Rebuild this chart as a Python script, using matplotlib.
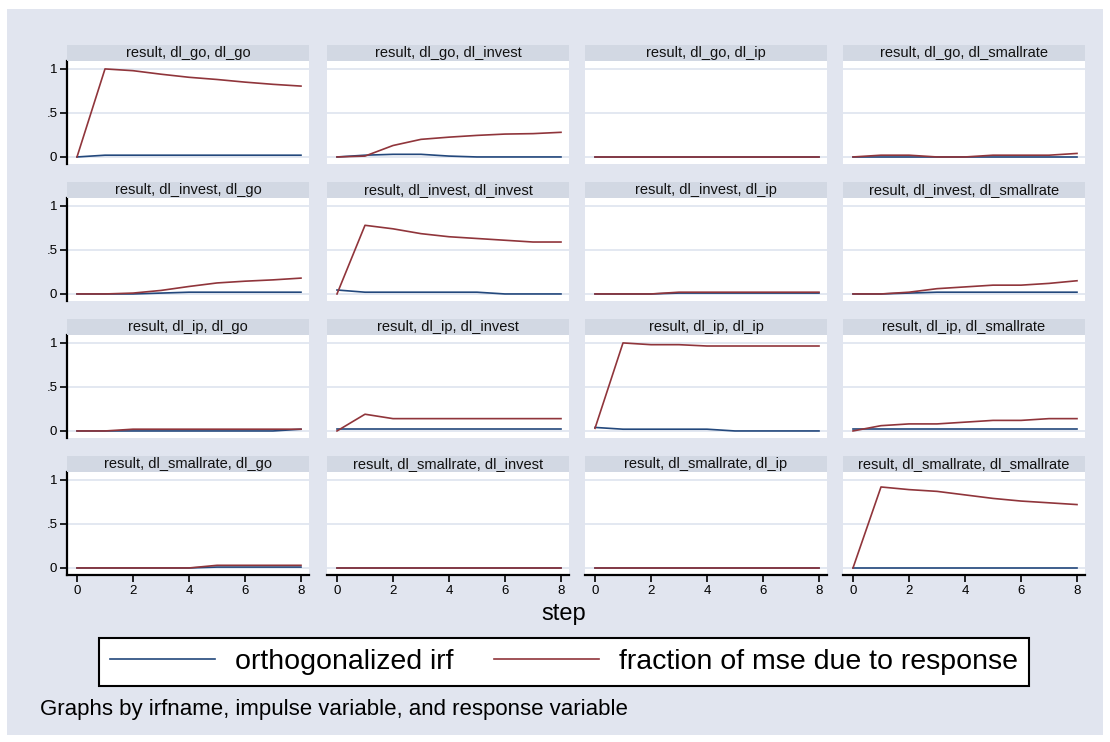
import matplotlib.pyplot as plt
from matplotlib.patches import Rectangle
from matplotlib.lines import Line2D

plt.rcParams['font.family'] = ['Liberation Sans', 'DejaVu Sans']

W, H = 1110, 742

steps = [0, 1, 2, 3, 4, 5, 6, 7, 8]
variables = ['dl_go', 'dl_invest', 'dl_ip', 'dl_smallrate']

# orthogonalized irf, one row per (impulse, response), impulse-major order
oirf = [
    [0, 0.02, 0.02, 0.02, 0.02, 0.02, 0.02, 0.02, 0.02],      # go -> go
    [0, 0.02, 0.03, 0.03, 0.01, 0, 0, 0, 0],                  # go -> invest
    [0, 0, 0, 0, 0, 0, 0, 0, 0],                              # go -> ip
    [0, 0, 0, 0, 0, 0, 0, 0, 0],                              # go -> smallrate
    [0, 0, 0, 0.01, 0.02, 0.02, 0.02, 0.02, 0.02],            # invest -> go
    [0.045, 0.02, 0.02, 0.02, 0.02, 0.02, 0, 0, 0],           # invest -> invest
    [0, 0, 0, 0.01, 0.01, 0.01, 0.01, 0.01, 0.01],            # invest -> ip
    [0, 0, 0.01, 0.02, 0.02, 0.02, 0.02, 0.02, 0.02],         # invest -> smallrate
    [0, 0, 0, 0, 0, 0, 0, 0, 0.02],                           # ip -> go
    [0.02, 0.02, 0.02, 0.02, 0.02, 0.02, 0.02, 0.02, 0.02],   # ip -> invest
    [0.04, 0.02, 0.02, 0.02, 0.02, 0, 0, 0, 0],               # ip -> ip
    [0.02, 0.02, 0.02, 0.02, 0.02, 0.02, 0.02, 0.02, 0.02],   # ip -> smallrate
    [0, 0, 0, 0, 0, 0.01, 0.01, 0.01, 0.01],                  # smallrate -> go
    [0, 0, 0, 0, 0, 0, 0, 0, 0],                              # smallrate -> invest
    [0, 0, 0, 0, 0, 0, 0, 0, 0],                              # smallrate -> ip
    [0, 0, 0, 0, 0, 0, 0, 0, 0],                              # smallrate -> smallrate
]

# fraction of mse due to response
fmse = [
    [0, 1.0, 0.98, 0.94, 0.905, 0.88, 0.85, 0.825, 0.805],
    [0, 0.01, 0.13, 0.20, 0.225, 0.245, 0.26, 0.265, 0.28],
    [0, 0, 0, 0, 0, 0, 0, 0, 0],
    [0, 0.02, 0.02, 0, 0, 0.02, 0.02, 0.02, 0.04],
    [0, 0, 0.01, 0.04, 0.085, 0.125, 0.145, 0.16, 0.18],
    [0, 0.78, 0.74, 0.685, 0.65, 0.63, 0.61, 0.59, 0.59],
    [0, 0, 0, 0.02, 0.02, 0.02, 0.02, 0.02, 0.02],
    [0, 0, 0.02, 0.06, 0.08, 0.10, 0.10, 0.12, 0.15],
    [0, 0, 0.02, 0.02, 0.02, 0.02, 0.02, 0.02, 0.02],
    [0, 0.19, 0.14, 0.14, 0.14, 0.14, 0.14, 0.14, 0.14],
    [0.03, 1.0, 0.98, 0.98, 0.965, 0.965, 0.965, 0.965, 0.965],
    [0, 0.06, 0.08, 0.08, 0.10, 0.12, 0.12, 0.14, 0.14],
    [0, 0, 0, 0, 0, 0.03, 0.03, 0.03, 0.03],
    [0, 0, 0, 0, 0, 0, 0, 0, 0],
    [0, 0, 0, 0, 0, 0, 0, 0, 0],
    [0, 0.92, 0.89, 0.87, 0.83, 0.79, 0.76, 0.74, 0.72],
]

bg = '#e1e5ef'
strip = '#d2d8e3'
gridc = '#e1e6f0'
navy = '#23487c'
maroon = '#90353b'

col_x = [67, 327, 585, 843]
row_y = [61, 198, 335, 472]
pw, ph = 242, 103

fig = plt.figure(figsize=(W / 100, H / 100), dpi=100, facecolor='white')
fig.add_artist(Rectangle((7 / W, 1 - 735 / H), 1096 / W, 726 / H,
                         transform=fig.transFigure, facecolor=bg, edgecolor='none', zorder=-10))

def px_axes(x, y, w, h):
    return fig.add_axes([x / W, 1 - (y + h) / H, w / W, h / H])

for i, imp in enumerate(variables):
    for j, resp in enumerate(variables):
        k = i * 4 + j
        x0, y0 = col_x[j], row_y[i]
        ax = px_axes(x0, y0, pw, ph)
        ax.set_facecolor('white')
        ax.set_xlim(-0.357, 8.286)
        ax.set_ylim(-0.08, 1.09)
        for g in [0, 0.5, 1]:
            ax.axhline(g, color=gridc, lw=1.3, zorder=0)
        ax.plot(steps, oirf[k], color=navy, lw=1.2)
        ax.plot(steps, fmse[k], color=maroon, lw=1.2)
        for s in ax.spines.values():
            s.set_visible(False)
        ax.tick_params(labelsize=9.5, width=1.2, length=5, color='black', pad=2)
        if j == 0:
            ax.spines['left'].set_visible(True)
            ax.spines['left'].set_linewidth(1.6)
            ax.set_yticks([0, 0.5, 1])
            ax.set_yticklabels(['0', '.5', '1'])
        else:
            ax.set_yticks([])
        if i == 3:
            ax.spines['bottom'].set_visible(True)
            ax.spines['bottom'].set_linewidth(1.6)
            ax.set_xticks([0, 2, 4, 6, 8])
        else:
            ax.set_xticks([])
        # title strip
        fig.add_artist(Rectangle((x0 / W, 1 - y0 / H), pw / W, 16 / H,
                                 transform=fig.transFigure, facecolor=strip, edgecolor='none'))
        fig.text((x0 + pw / 2) / W, 1 - (y0 - 8) / H, f'result, {imp}, {resp}',
                 ha='center', va='center', fontsize=10.5, color='#111111')

fig.text(564 / W, 1 - 614 / H, 'step', ha='center', va='center', fontsize=17)

handles = [Line2D([], [], color=navy, lw=1.2), Line2D([], [], color=maroon, lw=1.2)]
leg = fig.legend(handles, ['orthogonalized irf', 'fraction of mse due to response'],
                 loc='center', bbox_to_anchor=(564 / W, 1 - 662 / H), ncol=2,
                 fontsize=20.5, handlelength=3.7, handletextpad=0.7, columnspacing=1.4,
                 borderpad=0.4, frameon=True, fancybox=False, framealpha=1,
                 edgecolor='black')
leg.get_frame().set_linewidth(1.5)

fig.text(40 / W, 1 - 710 / H, 'Graphs by irfname, impulse variable, and response variable',
         ha='left', va='center', fontsize=16)

fig.savefig('out.png', dpi=100, facecolor='white')
